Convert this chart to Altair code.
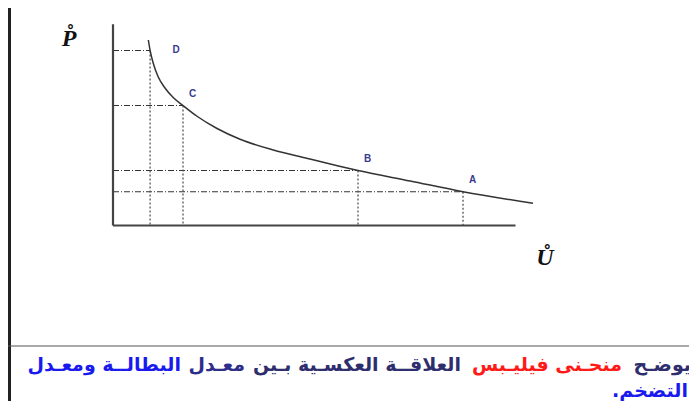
import altair as alt
import pandas as pd

# ---- data (U = unemployment, P = inflation, arbitrary units)
curve_u = [1.01, 1.06, 1.15, 1.29, 1.49, 1.72, 2.0, 2.39, 2.96, 3.63, 4.58, 5.53, 6.44, 7.0, 8.49, 10.0, 12.0]
curve_p = [7.42, 7.0, 6.49, 5.95, 5.49, 5.12, 4.8, 4.38, 3.89, 3.45, 3.02, 2.69, 2.38, 2.2, 1.78, 1.35, 0.89]

point_names = ["D", "C", "B", "A"]
point_u = [1.06, 2.0, 7.0, 10.0]
point_p = [7.0, 4.8, 2.2, 1.35]

axis_x_end = 11.5
axis_y_end = 8.05

caption_line1 = ["يوضـح", "منحـنى فيليـبس", "العلاقــة العكسـية بـين", "معـدل", "البطالــة ومعـدل"]
caption_colors = ["#2e2e6e", "#ff1a1a", "#2e2e6e", "#2e2e8a", "#1a1aee"]
caption_line2 = "التضخم.\u200F"

W, H = 681, 393
xs = alt.Scale(domain=[-3, 16.457], nice=False, zero=False)
ys = alt.Scale(domain=[-7.02, 8.7], nice=False, zero=False)

curve_df = pd.DataFrame({"U": curve_u, "P": curve_p})
pts = pd.DataFrame({"name": point_names, "U": point_u, "P": point_p})
pts["U0"] = 0.0
pts["P0"] = 0.0
axes_df = pd.DataFrame({"x": [0.0, 0.0], "y": [0.0, 0.0],
                        "x2": [axis_x_end, 0.0], "y2": [0.0, axis_y_end]})
one = pd.DataFrame({"k": [0]})

X = lambda f: alt.X(f, scale=xs, axis=None)
Y = lambda f: alt.Y(f, scale=ys, axis=None)

h_rules = alt.Chart(pts).mark_rule(strokeDash=[6, 2, 1, 2], color="#333", strokeWidth=1).encode(
    x=X("U0:Q"), x2="U:Q", y=Y("P:Q"))
v_rules = alt.Chart(pts).mark_rule(strokeDash=[2, 2], color="#555", strokeWidth=1.3).encode(
    x=X("U:Q"), y=Y("P:Q"), y2="P0:Q")
axes = alt.Chart(axes_df).mark_rule(color="#444", strokeWidth=2.2).encode(
    x=X("x:Q"), x2="x2:Q", y=Y("y:Q"), y2="y2:Q")
curve = alt.Chart(curve_df).mark_line(interpolate="monotone", color="#333", strokeWidth=1.5).encode(
    x=X("U:Q"), y=Y("P:Q"))

lab_style = dict(font="Liberation Sans", fontWeight="bold", fontSize=10, color="#3a3a90", baseline="middle")
lab_d = alt.Chart(pts[pts.name == "D"]).mark_text(dx=26, dy=-1, **lab_style).encode(
    x=X("U:Q"), y=Y("P:Q"), text="name:N")
lab_rest = alt.Chart(pts[pts.name != "D"]).mark_text(dx=9.5, dy=-12, **lab_style).encode(
    x=X("U:Q"), y=Y("P:Q"), text="name:N")

title_style = dict(font="Liberation Serif", fontStyle="italic", fontWeight="bold", fontSize=24,
                   color="#111", align="center", baseline="alphabetic")
p_title = alt.Chart(one).mark_text(**title_style).encode(
    x=alt.value(61), y=alt.value(38), text=alt.value("P\u030A"))
u_title = alt.Chart(one).mark_text(**title_style).encode(
    x=alt.value(537), y=alt.value(257), text=alt.value("U\u030A"))

left_border = alt.Chart(one).mark_rule(color="#222", strokeWidth=3).encode(
    x=alt.value(1.5), y=alt.value(0), y2=alt.value(H))
separator = alt.Chart(one).mark_rule(color="#555", strokeWidth=1.2).encode(
    x=alt.value(0), x2=alt.value(W), y=alt.value(338))

cap_style = dict(font="DejaVu Sans", fontWeight="bold", fontSize=19, align="right", baseline="alphabetic")
right_edges = [683, 614, 453, 237, 173]
caps = []
for txt, col, rx in zip(caption_line1, caption_colors, right_edges):
    caps.append(alt.Chart(one).mark_text(color=col, **cap_style).encode(
        x=alt.value(rx), y=alt.value(363), text=alt.value(txt)))
caps.append(alt.Chart(one).mark_text(color="#1a1aee", **cap_style).encode(
    x=alt.value(680), y=alt.value(389), text=alt.value(caption_line2)))

chart = alt.layer(h_rules, v_rules, axes, curve, lab_d, lab_rest, p_title, u_title,
                  left_border, separator, *caps).properties(
    width=W, height=H, padding=0, autosize=alt.AutoSizeParams(type="none"),
    background="white"
).configure_view(stroke=None)

chart.save("out.html", embed_options={"renderer": "svg", "actions": False})
